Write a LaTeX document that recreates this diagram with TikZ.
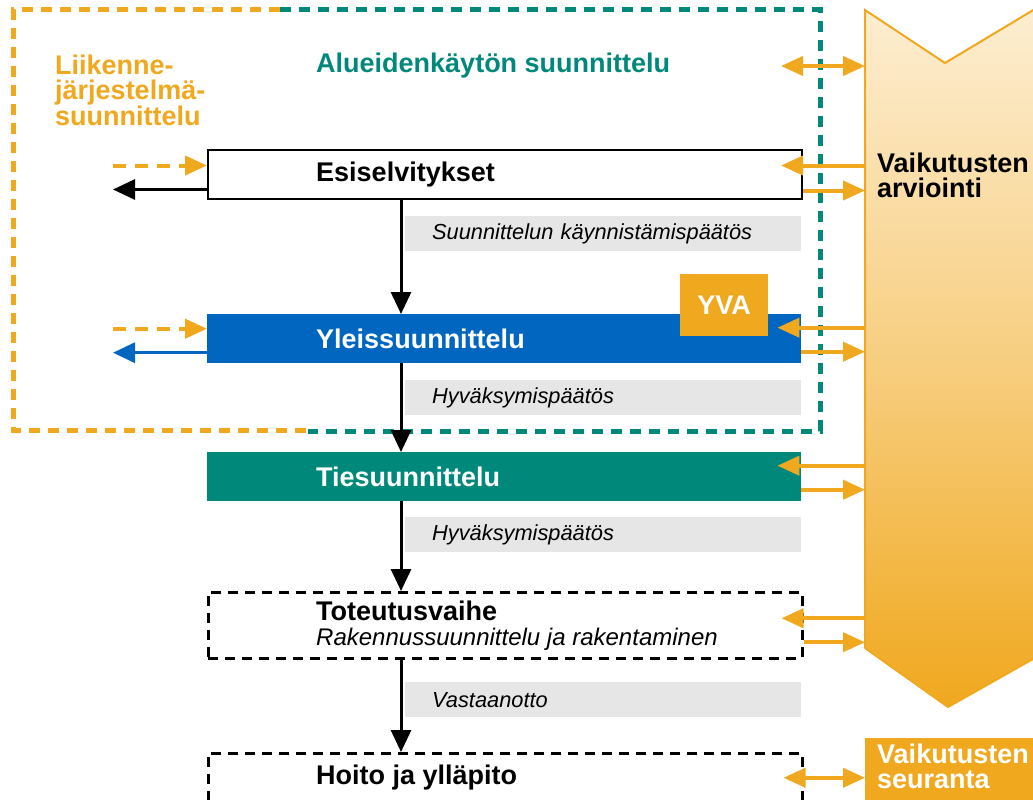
\documentclass[tikz,border=0pt]{standalone}
\usepackage{fontspec}
\setmainfont{Liberation Sans}
\usetikzlibrary{arrows.meta}

\definecolor{vaor}{RGB}{240,168,30}
\definecolor{vapale}{RGB}{253,238,210}
\definecolor{vateal}{RGB}{0,137,122}
\definecolor{vablue}{RGB}{0,102,192}
\definecolor{vagray}{RGB}{230,230,230}

\begin{document}
\begin{tikzpicture}[x=1pt,y=-1pt,
  stage/.style={anchor=north west,minimum width=594pt,minimum height=49pt,inner sep=0pt},
  phase/.style={stage,draw,line width=2.5pt,dash pattern=on 10pt off 7pt},
  title/.style={anchor=west,inner sep=0pt,align=left,
    font=\fontsize{27}{25}\selectfont\bfseries},
  decision/.style={anchor=north west,fill=vagray,minimum width=396pt,minimum height=35pt,
    inner xsep=27pt,inner ysep=0pt,text width=342pt,align=left,
    font=\fontsize{21.8}{24}\selectfont\itshape},
  flow/.style={line width=3pt,-{Triangle[length=22pt,width=20pt]}},
  oarr/.style={vaor,line width=4pt,-{Triangle[length=22pt,width=19pt]}},
  frame/.style={line width=5pt,dash pattern=on 11pt off 8pt}]
\useasboundingbox (0,0) rectangle (1033,800);

% planning frames
\draw[frame,vaor] (280,10) -- (13,10) -- (13,430) -- (308,430);
\draw[frame,vateal] (280,10) -- (820,10) -- (820,431) -- (308,431);
\node[title,vaor] (ljs) at (55,90) {Liikenne-\\järjestelmä-\\suunnittelu};
\node[title,vateal] (akt) at (316,66) {Alueidenkäytön suunnittelu};

% impact assessment arrow
\shade[top color=vapale,bottom color=vaor,middle color=vaor!45!vapale]
  (865,10) -- (945,63) -- (1040,6) -- (1040,655) -- (948,707) -- (865,648) -- cycle;
\draw[vaor,line width=2pt]
  (865,648) -- (865,10) -- (945,63) -- (1040,6) (1040,655) -- (948,707) -- (865,648);
\coordinate (aw) at (865,0);
\coordinate (lw) at (113,0);
\coordinate (ax) at (401,0);
\node[title,anchor=north west] (arvio) at (877,153) {Vaikutusten\\arviointi};
\node[fill=vaor,anchor=north west,minimum width=175pt,minimum height=63pt,inner sep=0pt]
  (seur) at (865,738) {};
\node[title,white,anchor=north west] (seurtxt) at (877,744) {Vaikutusten\\seuranta};

% stages
\node[stage,draw,line width=2pt] (esi) at (207,149) {};
\node[stage,fill=vablue] (yle) at (207,314) {};
\node[stage,fill=vateal] (tie) at (207,452) {};
\node[phase,minimum height=66pt] (tot) at (207,591) {};
\node[phase] (hoi) at (207,752) {};
\node[fill=vaor,anchor=north west,minimum width=88pt,minimum height=62pt,inner sep=0pt,
  font=\fontsize{27}{25}\selectfont\bfseries,text=white] (yva) at (680,274) {YVA};

\node[title] (esitxt) at ([xshift=109pt]esi.west) {Esiselvitykset};
\node[title,white] (yletxt) at ([xshift=109pt]yle.west) {Yleissuunnittelu};
\node[title,white] (tietxt) at ([xshift=109pt]tie.west) {Tiesuunnittelu};
\node[title,anchor=north west] (tottxt) at (316,601)
  {Toteutusvaihe\\\mdseries\itshape\fontsize{24}{26}\selectfont Rakennussuunnittelu ja rakentaminen};
\node[title] (hoitxt) at ([xshift=109pt]hoi.west) {Hoito ja ylläpito};

% decisions
\node[decision] (dec1) at (405,216) {Suunnittelun käynnistämispäätös};
\node[decision] (dec2) at (405,380) {Hyväksymispäätös};
\node[decision] (dec3) at (405,517) {Hyväksymispäätös};
\node[decision] (dec4) at (405,682) {Vastaanotto};

\draw[flow] (esi.south -| ax) -- (yle.north -| ax);
\draw[flow] (yle.south -| ax) -- (tie.north -| ax);
\draw[flow] (tie.south -| ax) -- (tot.north -| ax);
\draw[flow] (tot.south -| ax) -- (hoi.north -| ax);

% left side links
\draw[oarr,dash pattern=on 13pt off 9pt] ([yshift=9pt]esi.west -| lw) -- ([yshift=9pt]esi.west);
\draw[flow] ([yshift=-15pt]esi.west) -- ([yshift=-15pt]esi.west -| lw);
\draw[oarr,dash pattern=on 13pt off 9pt] ([yshift=10pt]yle.west -| lw) -- ([yshift=10pt]yle.west);
\draw[flow,vablue] ([yshift=-14pt]yle.west) -- ([yshift=-14pt]yle.west -| lw);

% right side links
\draw[oarr,{Triangle[length=22pt,width=19pt]}-{Triangle[length=22pt,width=19pt]}]
  ([xshift=-84pt]aw |- akt) -- (aw |- akt);
\draw[oarr] ([yshift=9pt]esi.east -| aw) -- ([yshift=9pt,xshift=-22pt]esi.east);
\draw[oarr] ([yshift=-16pt]esi.east) -- ([yshift=-16pt]esi.east -| aw);
\draw[oarr] ([yshift=11pt]yle.east -| aw) -- ([yshift=11pt,xshift=-24pt]yle.east);
\draw[oarr] ([yshift=-13pt]yle.east) -- ([yshift=-13pt]yle.east -| aw);
\draw[oarr] ([yshift=11pt]tie.east -| aw) -- ([yshift=11pt,xshift=-24pt]tie.east);
\draw[oarr] ([yshift=-13pt]tie.east) -- ([yshift=-13pt]tie.east -| aw);
\draw[oarr] ([yshift=7pt]tot.east -| aw) -- ([yshift=7pt,xshift=-22pt]tot.east);
\draw[oarr] ([yshift=-17pt]tot.east) -- ([yshift=-17pt]tot.east -| aw);
\draw[oarr,{Triangle[length=22pt,width=19pt]}-{Triangle[length=22pt,width=19pt]}]
  ([xshift=-20pt]hoi.east) -- (hoi.east -| seur.west);
\end{tikzpicture}
\end{document}
